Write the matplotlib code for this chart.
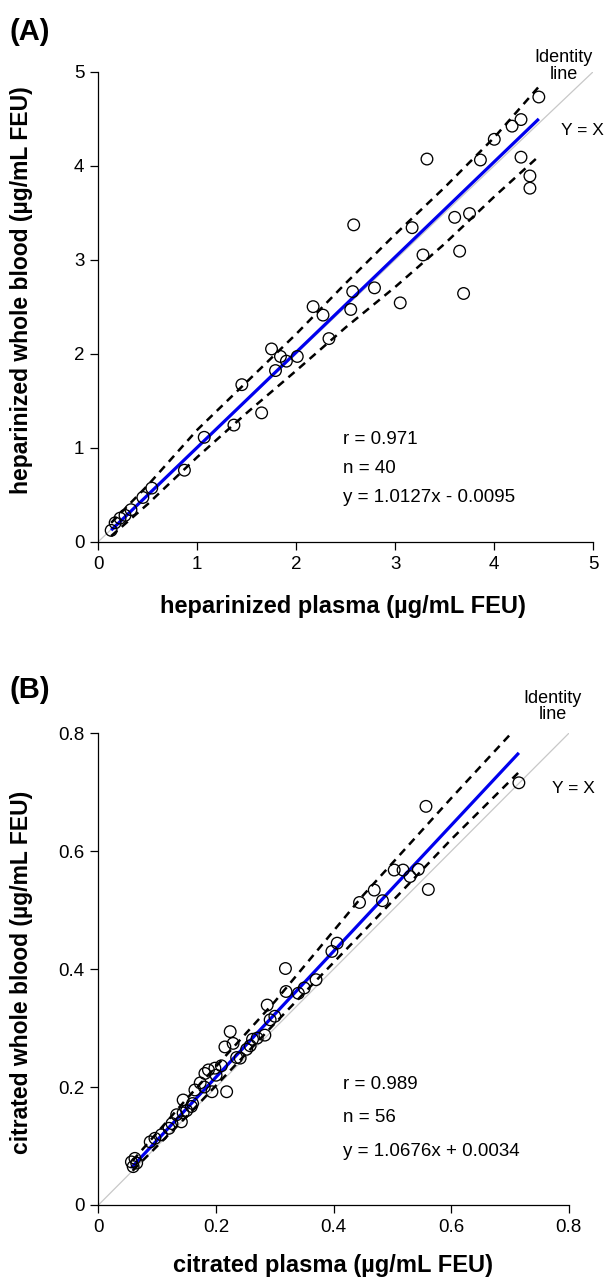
import matplotlib
matplotlib.use("Agg")
import matplotlib.pyplot as plt
import numpy as np

plt.rcParams.update({
    "font.family": ["Liberation Sans", "DejaVu Sans"],
    "font.size": 11,
})

# ============================================================
# Panel A: heparinized plasma vs heparinized whole blood
# ============================================================

hep_plasma = [0.13, 0.17, 0.22, 0.27, 0.33, 0.45, 0.54, 0.87, 1.07, 1.37,
              1.65, 1.45, 1.79, 1.75, 1.84, 1.90, 2.01, 2.17, 2.27, 2.33,
              2.55, 2.57, 2.58, 2.79, 3.05, 3.17, 3.28, 3.32, 3.60, 3.65,
              3.69, 3.75, 3.86, 4.00, 4.18, 4.27, 4.27, 4.36, 4.36, 4.45]
hep_blood = [0.12, 0.20, 0.25, 0.28, 0.34, 0.47, 0.57, 0.76, 1.11, 1.24,
             1.37, 1.67, 1.82, 2.05, 1.97, 1.92, 1.97, 2.50, 2.41, 2.16,
             2.47, 2.66, 3.37, 2.70, 2.54, 3.34, 3.05, 4.07, 3.45, 3.09,
             2.64, 3.49, 4.06, 4.28, 4.42, 4.49, 4.09, 3.89, 3.76, 4.73]

hep_slope, hep_icpt = 1.0127, -0.0095
hep_band_x = [0.13, 0.5, 1.0, 1.5, 2.0, 2.5, 3.0, 3.5, 4.0, 4.45]
hep_band_hi = [0.20, 0.60, 1.19, 1.70, 2.21, 2.75, 3.27, 3.77, 4.30, 4.84]
hep_band_lo = [0.06, 0.40, 0.90, 1.37, 1.82, 2.28, 2.71, 3.17, 3.67, 4.10]
hep_ticks = [0, 1, 2, 3, 4, 5]
hep_ticklabels = ["0", "1", "2", "3", "4", "5"]
hep_stats = ["r = 0.971", "n = 40", "y = 1.0127x - 0.0095"]

# ============================================================
# Panel B: citrated plasma vs citrated whole blood
# ============================================================

cit_plasma = [0.715, 0.557, 0.561, 0.503, 0.518, 0.544, 0.530, 0.469, 0.444, 0.483,
              0.406, 0.397, 0.319, 0.287, 0.292, 0.224, 0.283, 0.262, 0.270, 0.229,
              0.215, 0.252, 0.241, 0.187, 0.198, 0.209, 0.181, 0.218, 0.193, 0.164,
              0.173, 0.144, 0.318, 0.340, 0.158, 0.144, 0.133, 0.141, 0.107, 0.096,
              0.088, 0.062, 0.056, 0.065, 0.059, 0.120, 0.150, 0.160, 0.125, 0.180,
              0.200, 0.235, 0.258, 0.300, 0.350, 0.370]
cit_blood = [0.716, 0.676, 0.535, 0.568, 0.568, 0.569, 0.557, 0.534, 0.513, 0.516,
             0.444, 0.430, 0.362, 0.339, 0.314, 0.294, 0.288, 0.281, 0.283, 0.274,
             0.268, 0.264, 0.249, 0.229, 0.232, 0.236, 0.223, 0.192, 0.192, 0.195,
             0.207, 0.178, 0.401, 0.359, 0.167, 0.156, 0.153, 0.141, 0.119, 0.113,
             0.107, 0.079, 0.073, 0.071, 0.065, 0.130, 0.160, 0.172, 0.138, 0.200,
             0.220, 0.250, 0.270, 0.320, 0.368, 0.382]

cit_slope, cit_icpt = 1.0676, 0.0034
cit_band_x = [0.058, 0.15, 0.3, 0.45, 0.6, 0.716]
cit_band_hi = [0.075, 0.180, 0.345, 0.525, 0.690, 0.815]
cit_band_lo = [0.058, 0.150, 0.308, 0.463, 0.620, 0.735]
cit_ticks = [0, 0.2, 0.4, 0.6, 0.8]
cit_ticklabels = ["0", "0.2", "0.4", "0.6", "0.8"]
cit_stats = ["r = 0.989", "n = 56", "y = 1.0676x + 0.0034"]


def draw_panel(ax, x, y, slope, icpt, bx, bhi, blo, ticks, ticklabels,
               stats, stats_xy, stats_dy, ident_xy, yx_xy, xlabel, ylabel,
               xlab_pos, ylab_pos):
    lim = ticks[-1]
    ax.plot([0, lim], [0, lim], color="#c8c8c8", lw=0.9, zorder=1)

    x = np.asarray(x)
    xs = np.array([x.min(), x.max()])
    ax.plot(xs, slope * xs + icpt, color="#0000ee", lw=2.3, zorder=3,
            solid_capstyle="butt")
    for band in (bhi, blo):
        ax.plot(bx, band, color="black", lw=1.8, dashes=(3.2, 2.4), zorder=2)

    ax.scatter(x, y, s=70, facecolors="none", edgecolors="black",
               linewidths=0.95, zorder=4, clip_on=False)

    for i, s in enumerate(stats):
        ax.text(stats_xy[0], stats_xy[1] - i * stats_dy, s, fontsize=13.5,
                ha="left", va="center")
    ax.text(ident_xy[0], ident_xy[1], "Identity\nline", fontsize=13,
            ha="center", va="center", linespacing=0.95, clip_on=False)
    ax.text(yx_xy[0], yx_xy[1], "Y = X", fontsize=12.5, ha="center",
            va="center", clip_on=False)

    ax.set_xlim(0, lim)
    ax.set_ylim(0, lim)
    ax.set_xticks(ticks)
    ax.set_xticklabels(ticklabels)
    ax.set_yticks(ticks)
    ax.set_yticklabels(ticklabels)
    for side in ("top", "right"):
        ax.spines[side].set_visible(False)
    for side in ("left", "bottom"):
        ax.spines[side].set_linewidth(0.9)
    ax.tick_params(direction="out", length=6, width=0.9, labelsize=13.5,
                   pad=4)
    ax.set_xlabel(xlabel, fontsize=17, fontweight="bold")
    ax.set_ylabel(ylabel, fontsize=16.5, fontweight="bold")
    ax.xaxis.set_label_coords(*xlab_pos)
    ax.yaxis.set_label_coords(*ylab_pos)


fig = plt.figure(figsize=(6.06, 12.79), dpi=100)
ax_a = fig.add_axes([0.1622, 0.5765, 0.8168, 0.3675])
ax_b = fig.add_axes([0.1625, 0.0579, 0.7762, 0.3688])

draw_panel(ax_a, hep_plasma, hep_blood, hep_slope, hep_icpt,
           hep_band_x, hep_band_hi, hep_band_lo, hep_ticks, hep_ticklabels,
           hep_stats, (2.47, 1.085), 0.305, (4.70, 5.06), (4.89, 4.37),
           "heparinized plasma (\u00b5g/mL FEU)",
           "heparinized whole blood (\u00b5g/mL FEU)",
           (0.494, -0.113), (-0.132, 0.535))

draw_panel(ax_b, cit_plasma, cit_blood, cit_slope, cit_icpt,
           cit_band_x, cit_band_hi, cit_band_lo, cit_ticks, cit_ticklabels,
           cit_stats, (0.416, 0.204), 0.0565, (0.773, 0.845), (0.807, 0.706),
           "citrated plasma (\u00b5g/mL FEU)",
           "citrated whole blood (\u00b5g/mL FEU)",
           (0.4985, -0.104), (-0.139, 0.494))

fig.text(0.016, 1 - 32 / 1279, "(A)", fontsize=21, fontweight="bold",
         ha="left", va="center")
fig.text(0.016, 1 - 690 / 1279, "(B)", fontsize=21, fontweight="bold",
         ha="left", va="center")

fig.savefig("out.png", dpi=100)
